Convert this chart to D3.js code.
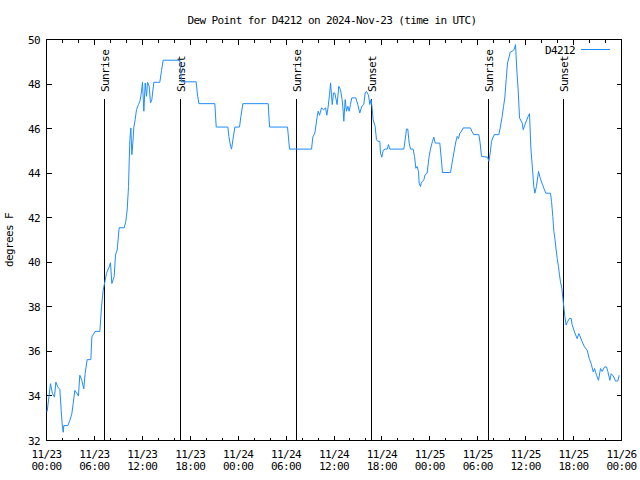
<!DOCTYPE html>
<html><head><meta charset="utf-8">
<script src="https://cdn.jsdelivr.net/npm/d3@7"></script>
<style>
body{margin:0;background:#fff}
svg text{font-family:"DejaVu Sans Mono",monospace;font-size:11px;letter-spacing:-0.6px;fill:#000}
</style>
</head><body><svg id="c" width="640" height="480"></svg>
<script>
// hours since 2024-11-23 00:00 UTC
const hours = [0.0,0.08,0.42,0.5,0.75,1.0,1.17,1.42,1.67,1.84,1.96,2.09,2.17,2.67,2.92,3.17,3.34,3.55,3.84,4.0,
4.17,4.42,4.67,4.84,5.09,5.55,5.68,6.09,6.68,6.89,7.1,7.35,7.51,7.85,8.01,8.18,8.47,8.64,8.85,9.1,
9.73,9.93,10.1,10.27,10.35,10.44,10.56,10.69,10.81,10.94,11.1,11.27,11.52,11.69,11.85,12.02,12.19,12.36,12.52,12.65,
12.86,13.02,13.19,13.44,14.19,14.4,14.61,16.7,16.9,18.74,18.88,19.08,21.08,21.25,22.71,22.84,23.05,23.17,23.34,23.59,
24.17,24.34,24.59,27.76,27.93,30.18,30.43,33.19,33.35,33.6,33.9,34.02,34.19,34.44,34.69,34.94,35.1,35.27,35.44,35.57,
35.78,35.94,36.1,36.39,36.6,36.81,37.02,37.15,37.23,37.4,37.56,37.73,37.9,38.06,38.23,38.73,38.98,39.23,39.48,39.73,
39.9,40.07,40.32,40.49,40.65,40.78,40.9,41.15,41.32,41.49,41.74,41.82,41.99,42.16,42.41,42.66,42.82,42.99,44.74,44.91,
45.08,45.24,45.41,45.58,45.91,46.08,46.25,46.41,46.58,46.66,46.83,46.91,47.08,47.25,47.41,47.66,47.91,48.08,48.33,48.5,
48.67,48.83,49.25,49.5,49.58,50.59,50.75,51.0,51.25,51.42,51.59,51.76,51.92,52.17,53.09,53.26,53.51,54.14,54.3,54.47,
55.22,55.39,55.56,55.72,56.06,56.64,56.81,57.06,57.23,57.39,57.56,57.73,57.89,58.06,58.31,58.56,58.73,58.9,59.06,59.23,
59.56,59.69,59.98,60.32,60.48,60.65,60.86,61.02,61.15,61.35,61.61,61.8,62.11,62.36,62.53,63.11,63.24,63.4,63.53,63.65,
63.82,63.95,64.11,64.24,64.36,64.53,64.66,64.78,64.91,65.07,65.24,65.49,65.7,65.82,66.12,66.45,66.66,66.78,67.08,67.37,
67.7,67.96,68.2,68.46,68.62,68.87,69.12,69.37,69.58,69.87,70.12,70.29,70.54,70.71,70.96,71.25,71.54,71.71];
const dewPoint = [33.3,33.3,34.3,34.55,34.1,33.95,34.62,34.4,34.3,33.35,32.75,32.37,32.67,32.67,32.9,33.2,33.65,34.25,34.1,34.0,
34.93,34.7,34.32,35.0,35.63,35.63,36.65,36.9,36.9,38.0,38.75,39.2,39.5,39.8,39.98,39.05,39.35,40.33,40.55,41.55,
41.55,41.83,42.35,43.4,44.45,45.5,46.03,44.83,45.35,46.07,46.4,46.85,47.08,47.22,47.53,48.08,46.78,48.05,47.45,48.08,
47.9,47.15,47.3,48.08,48.08,48.6,49.07,49.07,48.1,48.1,47.6,47.12,47.12,46.07,46.07,45.65,45.2,45.08,45.5,46.07,
46.07,46.55,47.12,47.12,46.07,46.07,45.08,45.08,45.62,45.8,46.55,46.78,46.6,46.93,46.85,46.93,46.6,46.98,47.53,48.05,
47.08,47.6,47.6,47.08,47.9,47.75,47.3,46.78,46.33,47.3,46.78,47.0,46.78,47.08,47.38,47.38,47.08,46.7,47.0,47.08,
47.6,47.67,47.5,47.08,47.3,46.9,46.4,46.1,45.5,45.43,45.43,44.9,44.72,45.02,45.08,45.08,45.28,45.08,45.08,45.5,
45.98,45.98,45.35,45.08,45.08,44.75,44.22,44.3,44.08,43.55,43.4,43.55,43.63,43.7,43.93,44.0,44.75,45.08,45.43,45.62,
45.35,45.35,45.35,44.38,44.03,44.03,44.38,44.9,45.4,45.65,45.55,45.8,45.85,46.03,46.03,45.88,45.73,45.73,45.35,44.75,
44.72,44.53,44.9,45.43,45.73,45.73,46.03,46.55,47.0,47.38,48.2,48.95,49.17,49.43,49.47,49.55,49.77,48.58,47.75,46.48,
46.25,45.95,46.25,46.55,46.67,45.13,44.15,43.4,43.1,43.4,44.08,43.8,43.48,43.25,43.1,43.1,42.73,42.05,41.38,41.08,
40.55,40.17,39.8,39.42,39.12,38.83,38.37,38.0,37.55,37.18,37.33,37.48,37.48,37.2,36.87,36.57,36.8,36.7,36.43,36.2,
36.05,35.68,35.45,35.08,35.23,34.93,34.7,35.23,35.1,35.3,35.3,35.1,34.7,35.0,34.9,34.67,34.67,34.93];
const sunLabels = ["Sunrise","Sunset","Sunrise","Sunset","Sunrise","Sunset"];
const sunHours = [7.3,16.82,31.35,40.74,55.39,64.78];
const yTickValues = [32,34,36,38,40,42,44,46,48,50];
const seriesName = "D4212";
const titleText = "Dew Point for D4212 on 2024-Nov-23 (time in UTC)";
const yLabel = "degrees F";

const base = Date.UTC(2024,10,23,0,0);
const toDate = h => new Date(base + h*3600e3);
const data = hours.map((h,i)=>({t:toDate(h), v:dewPoint[i]}));

const svg = d3.select("#c");
const L=46.5, R=621.5, T=39.5, B=440.5;
const x = d3.scaleUtc().domain([toDate(0), toDate(72)]).range([L,R]);
const y = d3.scaleLinear().domain([32,50]).range([B,T]);

svg.append("rect").attr("width",640).attr("height",480).attr("fill","#fff");

// title
svg.append("text").attr("x",332).attr("y",24).attr("text-anchor","middle").text(titleText);
// y label
svg.append("text").attr("transform","translate(13,240) rotate(-90)").attr("text-anchor","middle").text(yLabel);

const g = svg.append("g").attr("shape-rendering","crispEdges");
// minor ticks (2h) bottom/top
const minor = d3.utcHour.every(2).range(toDate(0), toDate(72.01));
const major = d3.utcHour.every(6).range(toDate(0), toDate(72.01));
minor.forEach(d=>{
  const isMajor = d.getUTCHours()%6===0;
  const len = isMajor?5:3;
  const xx = Math.round(x(d)-0.5)+0.5;
  g.append("line").attr("x1",xx).attr("x2",xx).attr("y1",B).attr("y2",B-len).attr("stroke","#000");
  g.append("line").attr("x1",xx).attr("x2",xx).attr("y1",T).attr("y2",T+len).attr("stroke","#000");
});
const fmtD = d3.utcFormat("%m/%d"), fmtT = d3.utcFormat("%H:%M");
major.forEach(d=>{
  const t = svg.append("text").attr("text-anchor","middle");
  t.append("tspan").attr("x",x(d)).attr("y",458).text(fmtD(d));
  t.append("tspan").attr("x",x(d)).attr("y",470).text(fmtT(d));
});
yTickValues.forEach(v=>{
  const yy = Math.round(y(v)-0.5)+0.5;
  g.append("line").attr("x1",L).attr("x2",L+5).attr("y1",yy).attr("y2",yy).attr("stroke","#000");
  g.append("line").attr("x1",R).attr("x2",R-5).attr("y1",yy).attr("y2",yy).attr("stroke","#000");
  svg.append("text").attr("x",40).attr("y",y(v)+4).attr("text-anchor","end").text(v);
});

// sun lines
sunHours.forEach((h,i)=>{
  const xx = Math.round(x(toDate(h))-0.5)+0.5;
  g.append("line").attr("x1",xx).attr("x2",xx).attr("y1",99).attr("y2",B).attr("stroke","#000");
  svg.append("text").attr("transform",`translate(${xx+4},92) rotate(-90)`).attr("text-anchor","start").text(sunLabels[i]);
});

// data line
svg.append("path").datum(data)
  .attr("fill","none").attr("stroke","#1e8cff").attr("stroke-width",1)
  .attr("d", d3.line().x(d=>x(d.t)).y(d=>y(d.v)));

// border
g.append("rect").attr("x",L).attr("y",T).attr("width",R-L).attr("height",B-T).attr("fill","none").attr("stroke","#000");

// legend
svg.append("text").attr("x",575).attr("y",54).attr("text-anchor","end").text(seriesName);
svg.append("line").attr("x1",581).attr("x2",610).attr("y1",49.5).attr("y2",49.5).attr("stroke","#1e8cff").attr("shape-rendering","crispEdges");
</script>
</body></html>
